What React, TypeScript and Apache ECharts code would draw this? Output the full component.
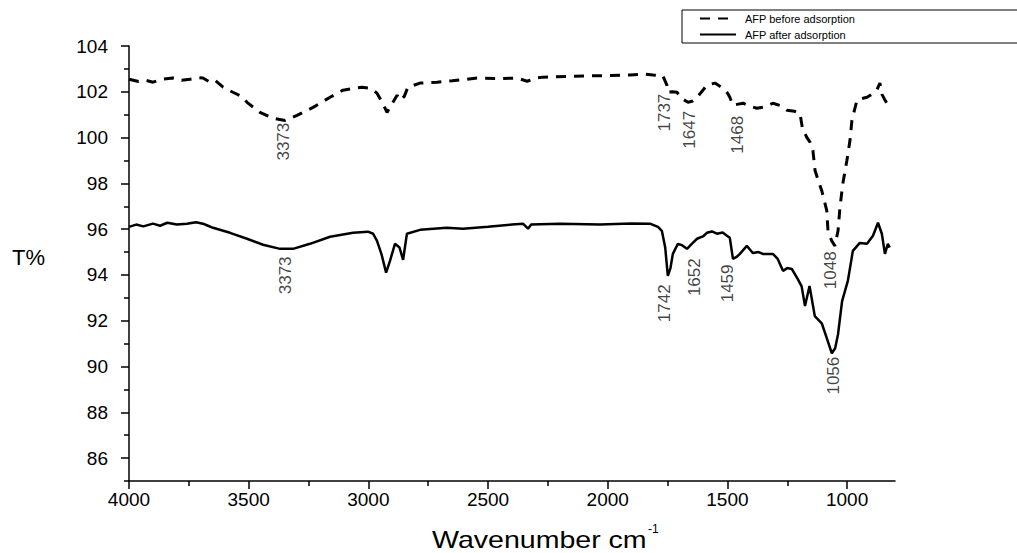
import { useEffect, useRef } from 'react';
import * as echarts from 'echarts';

// AFP before adsorption (dashed)
const beforeWn = [4000, 3960, 3930, 3900, 3860, 3816, 3780, 3745, 3710, 3691, 3662, 3640, 3607, 3566, 3530, 3507, 3453, 3398, 3348, 3298, 3231, 3160, 3106, 3060, 3027, 2990, 2964, 2940, 2922, 2900, 2880, 2868, 2850, 2835, 2784, 2713, 2650, 2546, 2450, 2379, 2337, 2300, 2271, 2150, 2045, 1907, 1850, 1811, 1770, 1753, 1749, 1730, 1711, 1690, 1665, 1645, 1627, 1600, 1586, 1552, 1519, 1500, 1490, 1477, 1460, 1435, 1400, 1377, 1340, 1310, 1280, 1251, 1220, 1197, 1185, 1176, 1168, 1155, 1143, 1134, 1120, 1106, 1085, 1080, 1065, 1051, 1038, 1030, 1018, 1001, 988, 980, 959, 940, 917, 895, 876, 863, 855, 845, 834, 821];
const beforeT = [102.55, 102.45, 102.5, 102.42, 102.55, 102.6, 102.5, 102.55, 102.62, 102.6, 102.42, 102.5, 102.2, 101.98, 101.8, 101.54, 101.1, 100.84, 100.75, 100.97, 101.32, 101.76, 102.07, 102.15, 102.2, 102.15, 101.94, 101.5, 101.1, 101.5, 101.85, 101.63, 101.8, 102.2, 102.38, 102.42, 102.48, 102.6, 102.58, 102.6, 102.46, 102.6, 102.64, 102.68, 102.7, 102.73, 102.78, 102.73, 102.7, 102.29, 101.98, 102.0, 101.98, 101.7, 101.54, 101.6, 101.76, 102.1, 102.29, 102.38, 102.16, 101.95, 101.76, 101.41, 101.45, 101.5, 101.35, 101.28, 101.35, 101.5, 101.4, 101.19, 101.15, 101.06, 100.3, 100.18, 100.0, 99.8, 99.44, 98.56, 98.1, 97.68, 96.81, 95.93, 95.5, 95.27, 95.93, 96.94, 97.99, 99.0, 99.88, 100.75, 101.63, 101.7, 101.76, 101.9, 102.07, 102.38, 101.9, 101.7, 101.5, 101.32];

// AFP after adsorption (solid)
const afterWn = [4000, 3970, 3940, 3900, 3870, 3840, 3800, 3758, 3720, 3691, 3670, 3649, 3578, 3507, 3440, 3369, 3315, 3244, 3160, 3064, 3002, 2980, 2964, 2945, 2926, 2910, 2889, 2870, 2855, 2839, 2784, 2672, 2605, 2500, 2400, 2354, 2333, 2320, 2200, 2033, 1900, 1824, 1790, 1774, 1760, 1749, 1738, 1728, 1707, 1690, 1669, 1650, 1627, 1600, 1586, 1565, 1544, 1520, 1502, 1490, 1477, 1460, 1448, 1419, 1394, 1370, 1352, 1310, 1290, 1268, 1250, 1231, 1206, 1190, 1176, 1157, 1135, 1106, 1085, 1064, 1050, 1038, 1021, 997, 976, 947, 917, 892, 871, 855, 842, 830, 822];
const afterT = [96.1, 96.2, 96.12, 96.24, 96.15, 96.28, 96.2, 96.24, 96.3, 96.24, 96.15, 96.06, 95.84, 95.58, 95.32, 95.14, 95.14, 95.36, 95.67, 95.84, 95.89, 95.8, 95.49, 94.9, 94.1, 94.6, 95.36, 95.2, 94.66, 95.8, 95.97, 96.06, 96.02, 96.1, 96.2, 96.24, 96.02, 96.2, 96.24, 96.2, 96.25, 96.24, 96.1, 95.93, 95.2, 93.96, 94.3, 94.92, 95.36, 95.3, 95.14, 95.35, 95.58, 95.7, 95.84, 95.9, 95.8, 95.85, 95.71, 95.62, 94.7, 94.8, 94.92, 95.27, 94.96, 95.0, 94.92, 94.92, 94.7, 94.18, 94.3, 94.26, 93.82, 93.5, 92.64, 93.52, 92.2, 91.89, 91.24, 90.58, 90.8, 91.41, 92.86, 93.74, 95.05, 95.4, 95.36, 95.71, 96.28, 95.8, 94.92, 95.36, 95.2];

// Peak annotations (label anchor position and text)
const beforePeakWn = [3353, 1765, 1657, 1460, 1068];
const beforePeakT = [100.67, 101.94, 101.19, 100.97, 95.05];
const beforePeakText = ['3373', '1737', '1647', '1468', '1048'];
const afterPeakWn = [3348, 1765, 1636, 1498, 1055];
const afterPeakT = [94.83, 93.61, 94.75, 94.48, 90.45];
const afterPeakText = ['3373', '1742', '1652', '1459', '1056'];

const xLabelValues = [4000, 3500, 3000, 2500, 2000, 1500, 1000];
const xMinorTicks = [3750, 3250, 2750, 2250, 1750, 1250];
const yLabelValues = [86, 88, 90, 92, 94, 96, 98, 100, 102, 104];
const yMinorTicks = [85, 87, 89, 91, 93, 95, 97, 99, 101, 103];

const seriesNames = ['AFP before adsorption', 'AFP after adsorption'];
const FONT = 'Liberation Sans, Arial, sans-serif';

function zip(a: number[], b: number[]) {
  return a.map((v, i) => [v, b[i]]);
}

function peakSeries(wn: number[], t: number[], text: string[], name: string) {
  return {
    name,
    type: 'scatter',
    xAxisIndex: 0,
    yAxisIndex: 0,
    symbolSize: 1,
    itemStyle: { color: 'rgba(0,0,0,0)' },
    silent: true,
    data: wn.map((w, i) => ({ value: [w, t[i]], label: { formatter: text[i] } })),
    label: {
      show: true,
      position: 'bottom',
      distance: 0,
      rotate: 90,
      align: 'right',
      verticalAlign: 'middle',
      fontSize: 17,
      fontFamily: FONT,
      color: '#111',
    },
    z: 5,
  };
}

export default function App() {
  const ref = useRef<HTMLDivElement>(null);
  useEffect(() => {
    if (!ref.current) return;
    const chart = echarts.init(ref.current, undefined, { renderer: 'svg' });
    const axisLineStyle = { color: '#000', width: 1.5 };
    const plain = (v: number) => String(v);
    chart.setOption({
      animation: false,
      backgroundColor: '#fff',
      grid: { left: 129, right: 122, top: 46, bottom: 72, containLabel: false },
      legend: {
        data: seriesNames,
        orient: 'vertical',
        left: 682,
        top: 10,
        itemWidth: 36,
        itemHeight: 10,
        itemGap: 5,
        padding: [3, 200, 3, 17],
        borderColor: '#000',
        borderWidth: 1,
        itemStyle: { opacity: 0 },
        textStyle: { fontSize: 11, color: '#000', fontFamily: FONT, padding: [0, 0, 0, 4] },
      },
      xAxis: [
        {
          type: 'value', min: 800, max: 4000, inverse: true, position: 'bottom',
          axisLine: { show: true, lineStyle: axisLineStyle },
          axisTick: { show: true, customValues: xLabelValues, length: 8, lineStyle: axisLineStyle },
          axisLabel: { customValues: xLabelValues, formatter: plain, fontSize: 19, color: '#000', fontFamily: FONT, margin: 9 },
          splitLine: { show: false },
        },
        {
          type: 'value', min: 800, max: 4000, inverse: true, position: 'bottom',
          axisLine: { show: false },
          axisTick: { show: true, customValues: xMinorTicks, length: 5, lineStyle: axisLineStyle },
          axisLabel: { show: false },
          splitLine: { show: false },
        },
      ],
      yAxis: [
        {
          type: 'value', min: 85, max: 104, position: 'left',
          axisLine: { show: true, lineStyle: axisLineStyle },
          axisTick: { show: true, customValues: yLabelValues, length: 8, lineStyle: axisLineStyle },
          axisLabel: { customValues: yLabelValues, formatter: plain, fontSize: 19, color: '#000', fontFamily: FONT, margin: 21 },
          splitLine: { show: false },
        },
        {
          type: 'value', min: 85, max: 104, position: 'left',
          axisLine: { show: false },
          axisTick: { show: true, customValues: yMinorTicks, length: 5, lineStyle: axisLineStyle },
          axisLabel: { show: false },
          splitLine: { show: false },
        },
      ],
      graphic: [
        { type: 'text', left: 12, top: 246, style: { text: 'T%', fontSize: 22, fill: '#000', fontFamily: FONT } },
        { type: 'text', x: 432, y: 528, scaleX: 1.19, style: { text: 'Wavenumber cm', fontSize: 24, fill: '#000', fontFamily: FONT } },
        { type: 'text', x: 648, y: 523, style: { text: '-1', fontSize: 12, fill: '#000', fontFamily: FONT } },
      ],
      series: [
        {
          name: seriesNames[0],
          type: 'line',
          xAxisIndex: 0, yAxisIndex: 0,
          showSymbol: false, symbol: 'none',
          data: zip(beforeWn, beforeT),
          lineStyle: { color: '#000', width: 3, type: [10, 8] },
          itemStyle: { color: '#000' },
        },
        {
          name: seriesNames[1],
          type: 'line',
          xAxisIndex: 0, yAxisIndex: 0,
          showSymbol: false, symbol: 'none',
          data: zip(afterWn, afterT),
          lineStyle: { color: '#000', width: 2.5, type: 'solid' },
          itemStyle: { color: '#000' },
        },
        peakSeries(beforePeakWn, beforePeakT, beforePeakText, 'before peaks'),
        peakSeries(afterPeakWn, afterPeakT, afterPeakText, 'after peaks'),
      ],
    });
    return () => chart.dispose();
  }, []);
  return <div ref={ref} style={{ position: 'fixed', left: 0, top: 0, width: 1017, height: 553 }} />;
}
